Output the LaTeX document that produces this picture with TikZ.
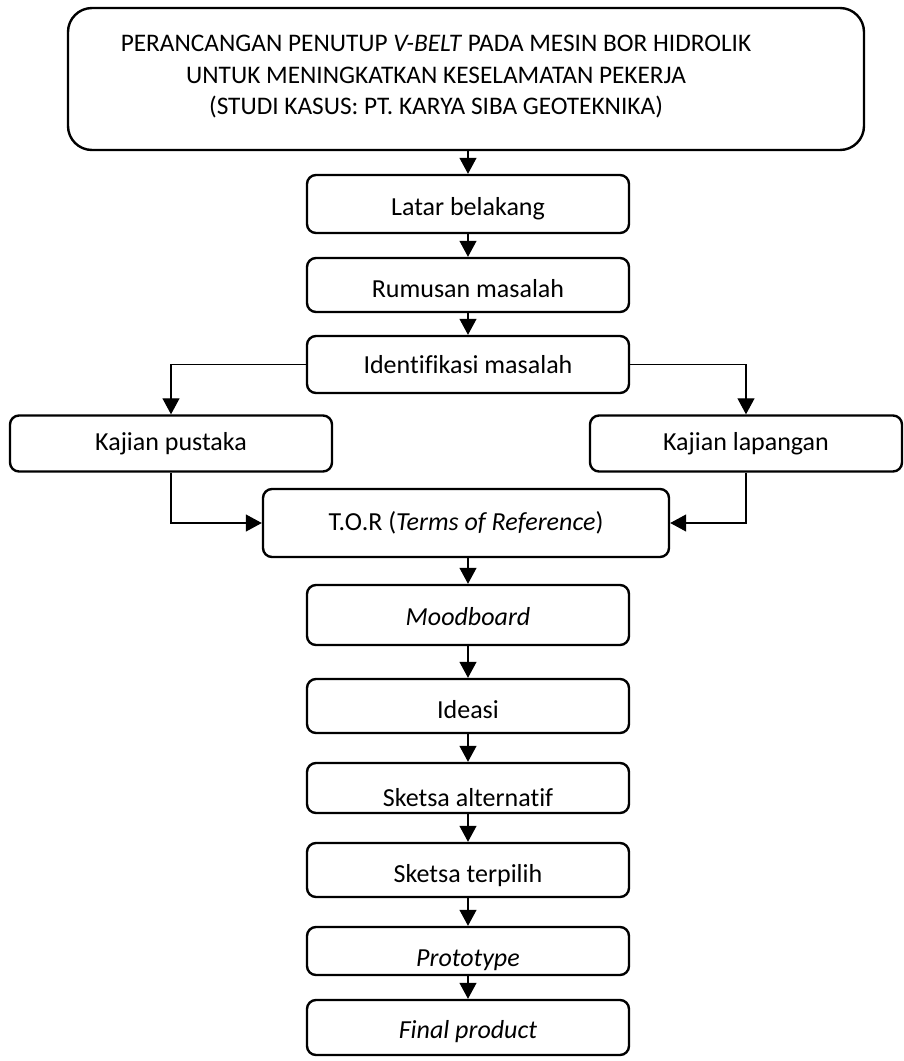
\documentclass[tikz,border=0pt]{standalone}
\usepackage{fontspec}
\setmainfont{Carlito}[Ligatures={NoCommon,NoRare}]
\usetikzlibrary{arrows.meta}
\begin{document}
\begin{tikzpicture}[x=1pt,y=-1pt,
 box/.style={draw, line width=2.4pt, rounded corners=9pt, minimum width=322pt, minimum height=56pt, inner sep=0pt, text depth=5pt, text height=27pt, font=\fontsize{26}{30}\selectfont},
 arr/.style={line width=1.2pt, -{Triangle[length=16pt,width=17pt]}}]
\useasboundingbox (0,0) rectangle (904,1061);
% title
\node[draw, line width=2.4pt, rounded corners=24pt, minimum width=796pt, minimum height=142pt, inner sep=0pt] (title) at (466,79) {};
\node[font=\fontsize{25.3}{31.5}\selectfont, align=center, inner sep=0pt] (titletext) at (436,77)
 {PERANCANGAN PENUTUP \textit{V-BELT} PADA MESIN BOR HIDROLIK\\
  UNTUK MENINGKATKAN KESELAMATAN PEKERJA\\
  (STUDI KASUS: PT. KARYA SIBA GEOTEKNIKA)};
% main column
\node[box, minimum height=58pt] (latar) at (468,204) {Latar belakang};
\node[box, minimum height=54pt, text height=29pt] (rumusan) at (468,285) {Rumusan masalah};
\node[box, minimum height=57pt, text height=22pt] (ident) at (468,364.5) {Identifikasi masalah};
\node[box, text height=19pt] (pustaka) at (171,443.5) {Kajian pustaka};
\node[box, minimum width=312pt, text height=19pt] (lapangan) at (746,443.5) {Kajian lapangan};
\node[box, minimum width=406pt, minimum height=68pt, text height=19pt] (tor) at (466,523) {T.O.R (\textit{Terms of Reference})};
\node[box, minimum height=60pt, text height=25pt] (mood) at (468,615) {\textit{Moodboard}};
\node[box, minimum height=54pt, text height=29pt] (ideasi) at (468,706) {Ideasi};
\node[box, minimum height=50pt, text height=41pt] (alt) at (468,788) {Sketsa alternatif};
\node[box, minimum height=54pt, text height=29pt] (pilih) at (468,870) {Sketsa terpilih};
\node[box, minimum height=48pt, text height=35pt] (proto) at (468,951) {\textit{Prototype}};
\node[box, minimum height=55pt, text height=26pt] (final) at (468,1027.5) {\textit{Final product}};
% connectors
\draw[arr] (title.south -| latar.north) -- (latar.north);
\draw[arr] (latar) -- (rumusan);
\draw[arr] (rumusan) -- (ident);
\draw[arr] (ident.west) -| (pustaka.north);
\draw[arr] (ident.east) -| (lapangan.north);
\draw[arr] (pustaka.south) |- (tor.west);
\draw[arr] (lapangan.south) |- (tor.east);
\draw[arr] (tor.south -| mood.north) -- (mood.north);
\draw[arr] (mood) -- (ideasi);
\draw[arr] (ideasi) -- (alt);
\draw[arr] (alt) -- (pilih);
\draw[arr] (pilih) -- (proto);
\draw[arr] (proto) -- (final);
\end{tikzpicture}
\end{document}
